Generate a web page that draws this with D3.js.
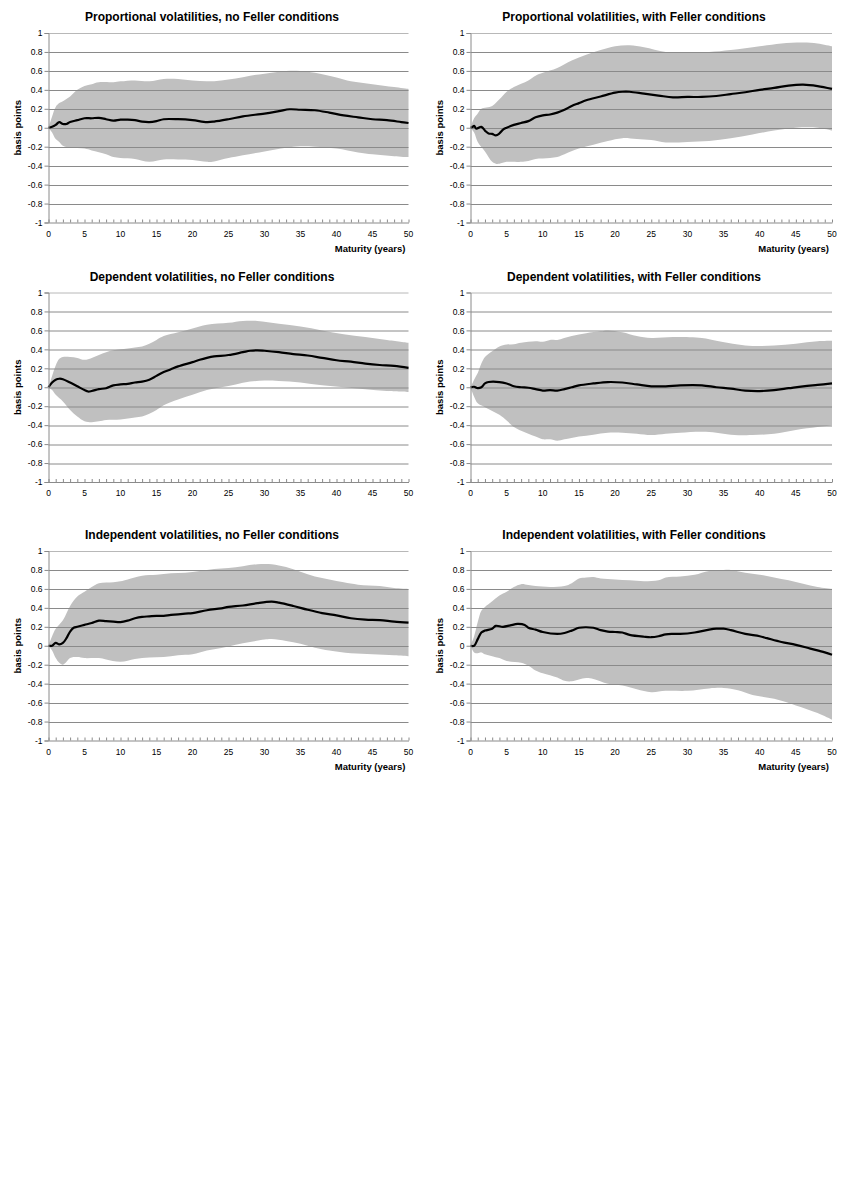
<!DOCTYPE html>
<html>
<head>
<meta charset="utf-8">
<script src="https://cdn.jsdelivr.net/npm/d3@7"></script>
<style>
  body { margin: 0; background: #fff; }
  svg text { font-family: Arial, "Liberation Sans", sans-serif; }
</style>
</head>
<body>
<svg id="chart" width="845" height="1195"></svg>
<script>
var titles = [
    "Proportional volatilities, no Feller conditions",
    "Proportional volatilities, with Feller conditions",
    "Dependent volatilities, no Feller conditions",
    "Dependent volatilities, with Feller conditions",
    "Independent volatilities, no Feller conditions",
    "Independent volatilities, with Feller conditions"
];
var yTicks = [-1, -0.8, -0.6, -0.4, -0.2, 0, 0.2, 0.4, 0.6, 0.8, 1];
var xTicks = [0, 5, 10, 15, 20, 25, 30, 35, 40, 45, 50];

// [maturity, basis points]
var propNoMean = [[0,0],[0.5,0.01],[1,0.03],[1.5,0.06],[2,0.04],[2.5,0.04],[3,0.06],[4,0.08],[5,0.1],[6,0.1],[7,0.105],[8,0.09],[9,0.075],[10,0.085],[11,0.085],[12,0.08],[13,0.065],[14,0.06],[15,0.07],[16,0.09],[18,0.09],[20,0.08],[22,0.06],[23,0.065],[25,0.09],[27,0.12],[30,0.15],[32,0.175],[33.5,0.195],[35,0.19],[37,0.185],[39,0.16],[41,0.13],[43,0.11],[45,0.09],[47,0.08],[49,0.06],[50,0.05]];
var propNoUpper = [[0,0],[0.5,0.12],[1,0.22],[1.5,0.26],[2,0.28],[3,0.33],[4,0.4],[5,0.44],[6,0.46],[7,0.48],[9,0.48],[10,0.49],[12,0.5],[14,0.49],[16,0.515],[18,0.515],[20,0.5],[22,0.49],[24,0.5],[26,0.52],[28,0.55],[30,0.57],[33,0.6],[35,0.6],[37,0.58],[40,0.53],[42,0.49],[45,0.46],[48,0.43],[50,0.41]];
var propNoLower = [[0,0],[0.5,-0.05],[1,-0.12],[1.5,-0.15],[2,-0.19],[3,-0.21],[5,-0.22],[6,-0.24],[8,-0.28],[9,-0.31],[10,-0.32],[12,-0.33],[14,-0.36],[16,-0.335],[18,-0.335],[20,-0.34],[22,-0.36],[23,-0.355],[25,-0.32],[27,-0.29],[30,-0.25],[33,-0.21],[35,-0.195],[37,-0.2],[40,-0.22],[43,-0.26],[45,-0.28],[48,-0.3],[50,-0.31]];

var propFelMean = [[0,0],[0.3,0.01],[0.5,0.02],[0.8,-0.01],[1.5,0.01],[2,-0.03],[2.5,-0.06],[3,-0.065],[3.5,-0.08],[4,-0.06],[4.5,-0.02],[5,0],[6,0.03],[7,0.05],[8,0.07],[9,0.11],[10,0.13],[11,0.14],[12,0.16],[13,0.19],[14,0.23],[15,0.26],[16,0.29],[18,0.33],[20,0.37],[21,0.38],[22,0.38],[24,0.36],[26,0.34],[28,0.32],[30,0.325],[32,0.325],[34,0.335],[36,0.355],[38,0.375],[40,0.4],[42,0.42],[44,0.445],[46,0.455],[48,0.44],[50,0.41]];
var propFelUpper = [[0,0],[0.5,0.1],[1,0.15],[1.5,0.2],[3,0.23],[4,0.3],[5,0.38],[6,0.43],[8,0.5],[9,0.55],[10,0.58],[12,0.63],[14,0.71],[16,0.77],[18,0.82],[20,0.86],[22,0.87],[24,0.85],[27,0.8],[30,0.8],[33,0.8],[36,0.82],[40,0.86],[43,0.89],[46,0.9],[48,0.89],[50,0.86]];
var propFelLower = [[0,0],[0.5,-0.05],[1,-0.15],[2,-0.25],[3,-0.36],[3.5,-0.38],[4,-0.38],[5,-0.36],[7,-0.36],[8,-0.35],[9,-0.33],[11,-0.32],[12,-0.31],[13,-0.28],[15,-0.22],[17,-0.18],[19,-0.14],[21,-0.11],[23,-0.12],[25,-0.13],[27,-0.155],[30,-0.15],[33,-0.14],[36,-0.11],[39,-0.07],[42,-0.03],[45,0],[48,0],[50,-0.03]];

var depNoMean = [[0,0],[0.5,0.05],[1,0.08],[1.5,0.09],[2,0.085],[3,0.05],[4,0.01],[5,-0.03],[5.5,-0.045],[6,-0.04],[7,-0.02],[8,-0.01],[9,0.02],[10,0.03],[11,0.035],[12,0.05],[13,0.06],[14,0.08],[15,0.12],[16,0.16],[17,0.19],[18,0.22],[20,0.265],[21,0.29],[22,0.31],[23,0.325],[25,0.34],[27,0.37],[28,0.385],[29,0.39],[30,0.385],[32,0.37],[34,0.35],[36,0.335],[38,0.31],[40,0.285],[42,0.27],[44,0.25],[46,0.235],[48,0.225],[50,0.205]];
var depNoUpper = [[0,0],[0.5,0.12],[1,0.23],[1.5,0.3],[2,0.32],[3,0.32],[4,0.31],[5,0.29],[6,0.31],[7,0.34],[8,0.37],[9,0.39],[10,0.4],[12,0.42],[13,0.43],[14,0.46],[15,0.5],[16,0.54],[18,0.58],[20,0.62],[22,0.66],[25,0.68],[27,0.7],[29,0.7],[32,0.67],[35,0.64],[38,0.6],[41,0.56],[44,0.53],[47,0.5],[50,0.47]];
var depNoLower = [[0,0],[0.5,-0.03],[1,-0.08],[2,-0.15],[3,-0.24],[4,-0.31],[5,-0.36],[6,-0.37],[7,-0.36],[8,-0.345],[10,-0.34],[12,-0.32],[13,-0.31],[14,-0.28],[15,-0.24],[16,-0.19],[18,-0.13],[20,-0.08],[22,-0.03],[24,0],[26,0.03],[28,0.06],[30,0.07],[32,0.065],[35,0.05],[38,0.02],[41,0],[44,-0.02],[47,-0.04],[50,-0.05]];

var depFelMean = [[0,0],[0.5,0.005],[1,-0.01],[1.5,0],[2,0.04],[2.5,0.055],[4,0.055],[5,0.04],[6,0.01],[7,0],[8,-0.005],[9,-0.02],[10,-0.035],[11,-0.03],[12,-0.035],[13,-0.02],[14,0],[15,0.02],[17,0.04],[19,0.055],[21,0.05],[23,0.03],[25,0.01],[27,0.01],[29,0.02],[32,0.02],[34,0],[36,-0.015],[38,-0.035],[40,-0.04],[42,-0.03],[44,-0.01],[46,0.01],[48,0.025],[50,0.04]];
var depFelUpper = [[0,0],[0.5,0.08],[1,0.15],[1.5,0.25],[2,0.32],[3,0.38],[4,0.43],[5,0.45],[6,0.455],[7,0.47],[9,0.485],[10,0.48],[11,0.5],[12,0.5],[14,0.54],[16,0.57],[18,0.59],[19,0.6],[21,0.58],[23,0.54],[25,0.52],[28,0.53],[32,0.52],[34,0.49],[37,0.45],[39,0.435],[42,0.44],[45,0.46],[48,0.485],[50,0.49]];
var depFelLower = [[0,0],[0.5,-0.1],[1,-0.17],[2,-0.21],[4,-0.29],[5,-0.35],[6,-0.42],[7,-0.46],[8,-0.49],[9,-0.52],[10,-0.55],[11,-0.55],[12,-0.565],[13,-0.55],[15,-0.52],[17,-0.5],[19,-0.48],[21,-0.48],[23,-0.49],[25,-0.505],[27,-0.49],[29,-0.48],[32,-0.47],[34,-0.48],[36,-0.5],[39,-0.505],[42,-0.49],[45,-0.45],[48,-0.42],[50,-0.4]];

var indNoMean = [[0,0],[0.5,0],[1,0.03],[1.5,0.015],[2,0.03],[2.5,0.08],[3,0.15],[3.5,0.19],[4,0.2],[5,0.22],[6,0.24],[7,0.265],[8,0.26],[9,0.255],[10,0.25],[11,0.265],[12,0.29],[13,0.305],[14,0.31],[15,0.315],[16,0.315],[17,0.325],[19,0.34],[20,0.345],[22,0.375],[24,0.395],[25,0.41],[27,0.425],[29,0.45],[31,0.465],[32,0.455],[34,0.42],[36,0.38],[38,0.345],[40,0.32],[42,0.29],[44,0.275],[46,0.27],[48,0.255],[50,0.245]];
var indNoUpper = [[0,0],[0.5,0.1],[1,0.18],[2,0.27],[3,0.42],[4,0.52],[5,0.57],[6,0.62],[7,0.66],[9,0.67],[10,0.68],[11,0.7],[13,0.74],[15,0.75],[17,0.765],[19,0.77],[21,0.79],[23,0.81],[25,0.82],[27,0.84],[29,0.86],[31,0.86],[33,0.83],[35,0.78],[37,0.73],[39,0.7],[41,0.67],[43,0.645],[46,0.63],[48,0.61],[50,0.6]];
var indNoLower = [[0,0],[0.5,-0.05],[1,-0.13],[1.5,-0.18],[2,-0.2],[2.5,-0.17],[3,-0.13],[4,-0.12],[5,-0.13],[7,-0.13],[8,-0.145],[10,-0.17],[12,-0.14],[14,-0.125],[16,-0.12],[18,-0.1],[20,-0.09],[22,-0.05],[24,-0.025],[26,0.01],[28,0.04],[30,0.065],[31,0.07],[33,0.05],[35,0.02],[37,-0.02],[39,-0.05],[42,-0.08],[45,-0.09],[48,-0.1],[50,-0.11]];

var indFelMean = [[0,0],[0.5,0],[1,0.07],[1.5,0.14],[2,0.16],[3,0.18],[3.5,0.21],[4.5,0.2],[5.5,0.215],[6.5,0.23],[7.5,0.22],[8,0.19],[9,0.17],[10,0.145],[12,0.125],[13,0.135],[14,0.16],[15,0.19],[16,0.195],[17,0.19],[18,0.165],[19,0.15],[20,0.145],[21,0.14],[22,0.115],[24,0.095],[25,0.09],[26,0.1],[27,0.12],[28,0.125],[29,0.125],[31,0.14],[33,0.17],[34,0.18],[35,0.18],[36,0.165],[38,0.125],[40,0.1],[41,0.08],[43,0.04],[45,0.01],[47,-0.03],[49,-0.07],[50,-0.095]];
var indFelUpper = [[0,0],[0.5,0.1],[1,0.25],[1.5,0.37],[2,0.41],[3,0.47],[4,0.53],[5,0.57],[6,0.62],[7,0.65],[8,0.64],[9,0.63],[11,0.62],[13,0.63],[14,0.66],[15,0.71],[16,0.72],[17,0.725],[18,0.71],[20,0.7],[22,0.69],[24,0.68],[26,0.69],[27,0.72],[29,0.73],[31,0.75],[33,0.79],[35,0.8],[36,0.8],[38,0.77],[40,0.75],[42,0.72],[44,0.69],[46,0.655],[48,0.62],[50,0.6]];
var indFelLower = [[0,0],[0.5,-0.07],[1,-0.08],[1.5,-0.07],[2,-0.09],[3,-0.11],[4,-0.13],[5,-0.16],[7,-0.18],[8,-0.21],[9,-0.26],[10,-0.29],[12,-0.335],[13,-0.37],[14,-0.375],[15,-0.355],[16,-0.34],[17,-0.35],[19,-0.4],[21,-0.42],[23,-0.46],[25,-0.49],[27,-0.475],[30,-0.475],[33,-0.45],[35,-0.445],[37,-0.47],[39,-0.52],[42,-0.56],[45,-0.63],[48,-0.71],[50,-0.78]];

var panels = [
    {mean: propNoMean, upper: propNoUpper, lower: propNoLower},
    {mean: propFelMean, upper: propFelUpper, lower: propFelLower},
    {mean: depNoMean, upper: depNoUpper, lower: depNoLower},
    {mean: depFelMean, upper: depFelUpper, lower: depFelLower},
    {mean: indNoMean, upper: indNoUpper, lower: indNoLower},
    {mean: indFelMean, upper: indFelUpper, lower: indFelLower}
];

var colLeft = [48.5, 470.5],
    colWidth = [360, 361.5],
    rowTop = [33, 292.5, 551],
    plotHeight = 189.5,
    panelWidth = 422;

var svg = d3.select("#chart");

panels.forEach((p, i) => {
    var col = i % 2, row = Math.floor(i / 2);
    var left = colLeft[col], top = rowTop[row];

    var x = d3.scaleLinear().domain([0, 50]).range([0, colWidth[col]]);
    var y = d3.scaleLinear().domain([-1, 1]).range([plotHeight, 0]);

    var g = svg.append("g")
        .attr("transform", "translate(" + left + "," + top + ")");

    // shaded band
    var smooth = d3.line()
        .x(d => x(d[0]))
        .y(d => y(d[1]))
        .curve(d3.curveCatmullRom);
    var bandPath = smooth(p.upper) + "L" + smooth(p.lower.slice().reverse()).slice(1) + "Z";
    g.append("path")
        .attr("d", bandPath)
        .attr("fill", "#c0c0c0");

    // gridlines
    g.selectAll(".grid")
        .data(yTicks.filter(t => t > -1))
        .enter().append("line")
        .attr("x1", 0)
        .attr("x2", colWidth[col])
        .attr("y1", d => Math.round(y(d)) + 0.5)
        .attr("y2", d => Math.round(y(d)) + 0.5)
        .attr("stroke", d => d == 1 ? "#b8b8b8" : "#8a8a8a")
        .attr("stroke-width", 1);

    // mean line
    g.append("path")
        .attr("d", smooth(p.mean))
        .attr("fill", "none")
        .attr("stroke", "#000")
        .attr("stroke-width", 2.2)
        .attr("stroke-linejoin", "round");

    // y axis
    var yAxis = d3.axisLeft(y).tickValues(yTicks).tickSize(4).tickPadding(2)
        .tickFormat(d => String(+d.toFixed(1)));
    var ya = g.append("g").call(yAxis);
    ya.select(".domain").attr("stroke", "#8a8a8a");
    ya.selectAll(".tick line").attr("stroke", "#8a8a8a");
    ya.selectAll("text").attr("font-size", 8.5).attr("fill", "#000")
        .attr("font-family", "Arial, 'Liberation Sans', sans-serif");

    // x axis with yearly ticks pointing up
    var xa = g.append("g")
        .attr("transform", "translate(0," + plotHeight + ")")
        .call(d3.axisBottom(x).ticks(50).tickSize(-3).tickSizeOuter(0).tickFormat(""));
    xa.select(".domain").attr("stroke", "#8a8a8a");
    xa.selectAll(".tick line").attr("stroke", "#8a8a8a");

    g.selectAll(".xlab")
        .data(xTicks)
        .enter().append("text")
        .attr("x", d => x(d))
        .attr("y", plotHeight + 14)
        .attr("text-anchor", "middle")
        .attr("font-size", 8.5)
        .text(d => d);

    // titles and axis labels
    svg.append("text")
        .attr("x", col * panelWidth + 212)
        .attr("y", top - 12)
        .attr("text-anchor", "middle")
        .attr("font-size", 12)
        .attr("font-weight", "bold")
        .text(titles[i]);

    svg.append("text")
        .attr("transform", "translate(" + (col * panelWidth + 21) + "," + (top + plotHeight / 2) + ") rotate(-90)")
        .attr("text-anchor", "middle")
        .attr("font-size", 9.5)
        .attr("font-weight", "bold")
        .text("basis points");

    if (row != 1) {
        svg.append("text")
            .attr("x", left + colWidth[col] - 3)
            .attr("y", top + plotHeight + 29)
            .attr("text-anchor", "end")
            .attr("font-size", 9.5)
            .attr("font-weight", "bold")
            .text("Maturity (years)");
    }
});
</script>
</body>
</html>
